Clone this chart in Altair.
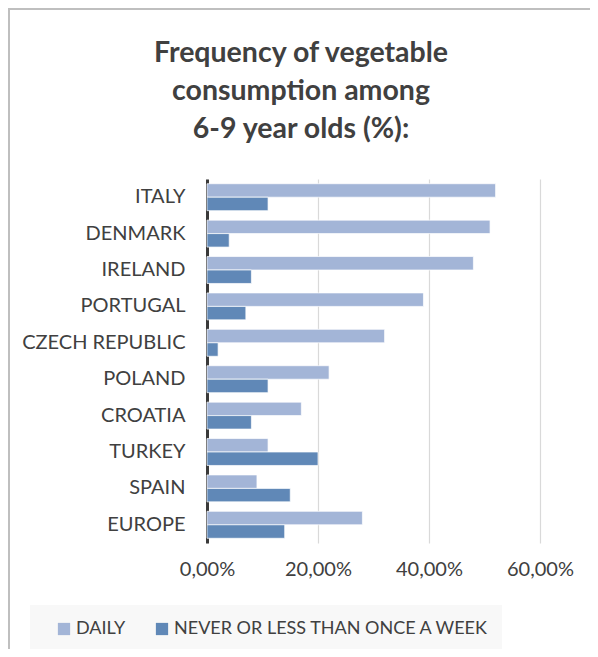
import altair as alt
import pandas as pd

countries = ["ITALY", "DENMARK", "IRELAND", "PORTUGAL", "CZECH REPUBLIC",
             "POLAND", "CROATIA", "TURKEY", "SPAIN", "EUROPE"]
daily = [52, 51, 48, 39, 32, 22, 17, 11, 9, 28]
never = [11, 4, 8, 7, 2, 11, 8, 20, 15, 14]
series = ["DAILY", "NEVER OR LESS THAN ONCE A WEEK"]
colors = ["#a3b5d7", "#6088b7"]
x_ticks = [0, 0.2, 0.4, 0.6]
title_lines = ["Frequency of vegetable", "consumption among", "6-9 year olds (%):"]

rows = []
for c, d, n in zip(countries, daily, never):
    rows.append({"country": c, "series": series[0], "value": d / 100})
    rows.append({"country": c, "series": series[1], "value": n / 100})
df = pd.DataFrame(rows)

FONT = "Lato"
TXT = "#404040"

W, H = 333, 364
OX, OY = 207, 179  # page position of plot origin

bars = alt.Chart(df).mark_bar(stroke="white", strokeWidth=1, strokeOpacity=0.7).encode(
    x=alt.X("value:Q",
            scale=alt.Scale(domain=[0, 0.6], nice=False),
            axis=alt.Axis(values=x_ticks, title=None, domain=False, ticks=False,
                          grid=True, gridColor="#d9d9d9", gridWidth=1.2,
                          labelFlush=False, labelAlign="center",
                          labelExpr="replace(format(datum.value, '.2%'), '.', ',')",
                          labelFont=FONT, labelFontSize=20, labelColor=TXT,
                          labelPadding=16)),
    y=alt.Y("country:N", sort=countries,
            scale=alt.Scale(paddingInner=0.26, paddingOuter=0.13),
            axis=alt.Axis(title=None, ticks=False, grid=False,
                          domainColor="#3a3a3a", domainWidth=3,
                          labelFont=FONT, labelFontSize=20, labelColor=TXT,
                          labelPadding=22)),
    yOffset=alt.YOffset("series:N", sort=series),
    color=alt.Color("series:N", sort=series,
                    scale=alt.Scale(domain=series, range=colors),
                    legend=alt.Legend(title=None, orient="none", direction="horizontal",
                                      legendX=55 - OX, legendY=620 - OY, padding=0,
                                      symbolType="square", symbolSize=150,
                                      symbolStrokeWidth=0, columnPadding=27,
                                      labelOffset=3, labelLimit=400,
                                      labelFont=FONT, labelFontSize=18,
                                      labelColor=TXT)),
)

one = pd.DataFrame({"a": [0]})
legend_bg = alt.Chart(one).mark_rect(fill="#f8f8f8").encode(
    x=alt.value(30 - OX), x2=alt.value(502 - OX),
    y=alt.value(605 - OY), y2=alt.value(651 - OY))

frame = alt.Chart(one).mark_rect(fillOpacity=0, stroke="#bfbfbf", strokeWidth=2).encode(
    x=alt.value(9 - OX), x2=alt.value(700),
    y=alt.value(9 - OY), y2=alt.value(800))

title_layers = []
for i, (line, base) in enumerate(zip(title_lines, [62, 100, 137.5])):
    title_layers.append(
        alt.Chart(one).mark_text(font=FONT, fontSize=28.5, fontWeight="bold", color=TXT,
                                 align="center", baseline="alphabetic").encode(
            x=alt.value(301 - OX), y=alt.value(base - OY), text=alt.value(line)))

chart = alt.layer(frame, legend_bg, *title_layers, bars).properties(
    width=W, height=H,
    autosize=alt.AutoSizeParams(type="none"),
    padding={"left": OX - 8, "top": OY - 8, "right": 582 - (OX - 8) - W,
             "bottom": 641 - (OY - 8) - H},
).configure_view(stroke=None)

chart.save("out.html", embed_options={"renderer": "svg", "actions": False})
